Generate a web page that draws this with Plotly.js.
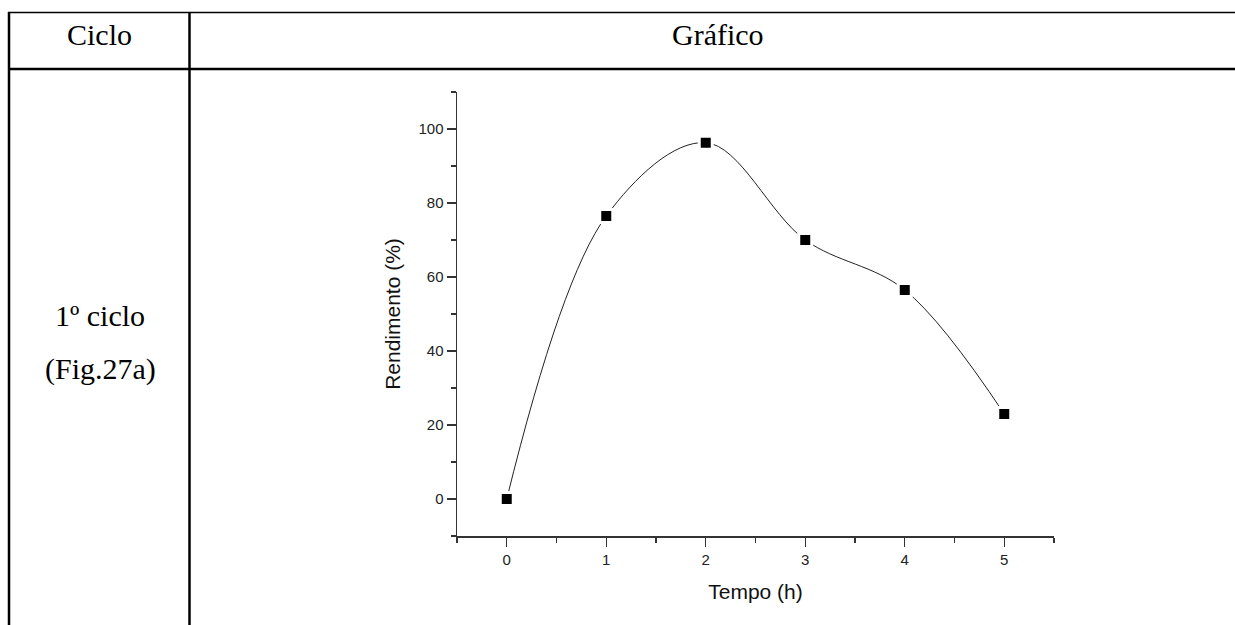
<!DOCTYPE html>
<html>
<head>
<meta charset="utf-8">
<script src="https://cdn.plot.ly/plotly-3.0.1.min.js"></script>
<style>
  html, body { margin: 0; padding: 0; background: #fff; }
  #chart { width: 1235px; height: 625px; }
</style>
</head>
<body>
<div id="chart"></div>
<script>
// Yield over time, first cycle
const tempo = [0, 1, 2, 3, 4, 5];
const rendimento = [0, 76.5, 96.3, 70, 56.5, 23];

const xTickVals = [0, 1, 2, 3, 4, 5];
const yTickVals = [0, 20, 40, 60, 80, 100];

const W = 1235, H = 625;
const M = { l: 457, r: 181, t: 92, b: 89 };
const plotW = W - M.l - M.r;
const plotH = H - M.t - M.b;

// pixel -> paper helpers for the surrounding table
const px = v => (v - M.l) / plotW;
const py = v => (H - M.b - v) / plotH;

function hline(y, x0, x1, w) {
  return { type: 'line', xref: 'paper', yref: 'paper', x0: px(x0), x1: px(x1),
           y0: py(y), y1: py(y), line: { color: '#000', width: w } };
}
function vline(x, y0, y1, w) {
  return { type: 'line', xref: 'paper', yref: 'paper', x0: px(x), x1: px(x),
           y0: py(y0), y1: py(y1), line: { color: '#000', width: w } };
}
function cellText(text, x, y) {
  return { text: text, xref: 'paper', yref: 'paper', x: px(x), y: py(y),
           xanchor: 'center', yanchor: 'middle', showarrow: false,
           font: { family: '"Liberation Serif", "Times New Roman", serif', size: 30, color: '#000' } };
}

const trace = {
  x: tempo,
  y: rendimento,
  mode: 'lines+markers',
  line: { shape: 'spline', smoothing: 1.0, color: '#222', width: 1 },
  marker: { symbol: 'square', size: 13, color: '#000', line: { color: '#fff', width: 3 } },
  hoverinfo: 'x+y'
};

const axisFont = { family: '"Liberation Sans", Arial, sans-serif', size: 15, color: '#222' };

const layout = {
  width: W, height: H,
  margin: M,
  paper_bgcolor: '#fff', plot_bgcolor: '#fff',
  showlegend: false,
  xaxis: {
    range: [-0.5, 5.5], autorange: false,
    tickvals: xTickVals, ticktext: xTickVals.map(String),
    ticks: 'outside', ticklen: 9, tickwidth: 1.3, tickcolor: '#333',
    minor: { dtick: 0.5, tick0: 0, ticks: 'outside', ticklen: 5, tickwidth: 1.3, tickcolor: '#333' },
    showline: true, linecolor: '#333', linewidth: 1.5,
    showgrid: false, zeroline: false,
    tickfont: axisFont, automargin: false,
    title: { text: 'Tempo (h)', standoff: 18,
             font: { family: '"Liberation Sans", Arial, sans-serif', size: 21, color: '#111' } }
  },
  yaxis: {
    range: [-10, 110], autorange: false,
    tickvals: yTickVals, ticktext: yTickVals.map(String),
    ticks: 'outside', ticklen: 9, tickwidth: 1.3, tickcolor: '#333',
    minor: { dtick: 10, tick0: 0, ticks: 'outside', ticklen: 5, tickwidth: 1.3, tickcolor: '#333' },
    showline: true, linecolor: '#333', linewidth: 1.5,
    showgrid: false, zeroline: false,
    tickfont: axisFont, automargin: false,
    title: { text: 'Rendimento (%)', standoff: 12,
             font: { family: '"Liberation Sans", Arial, sans-serif', size: 21, color: '#111' } }
  },
  shapes: [
    hline(12.5, 8, 1235, 1.3),
    hline(69, 8, 1235, 2.5),
    vline(9, 12, 625, 2.5),
    vline(189.5, 12, 625, 2.5)
  ],
  annotations: [
    cellText('Ciclo', 99, 34),
    cellText('Gráfico', 717.5, 34),
    cellText('1º ciclo', 100, 315),
    cellText('(Fig.27a)', 100, 369)
  ]
};

Plotly.newPlot('chart', [trace], layout, { displayModeBar: false, staticPlot: true });
</script>
</body>
</html>
